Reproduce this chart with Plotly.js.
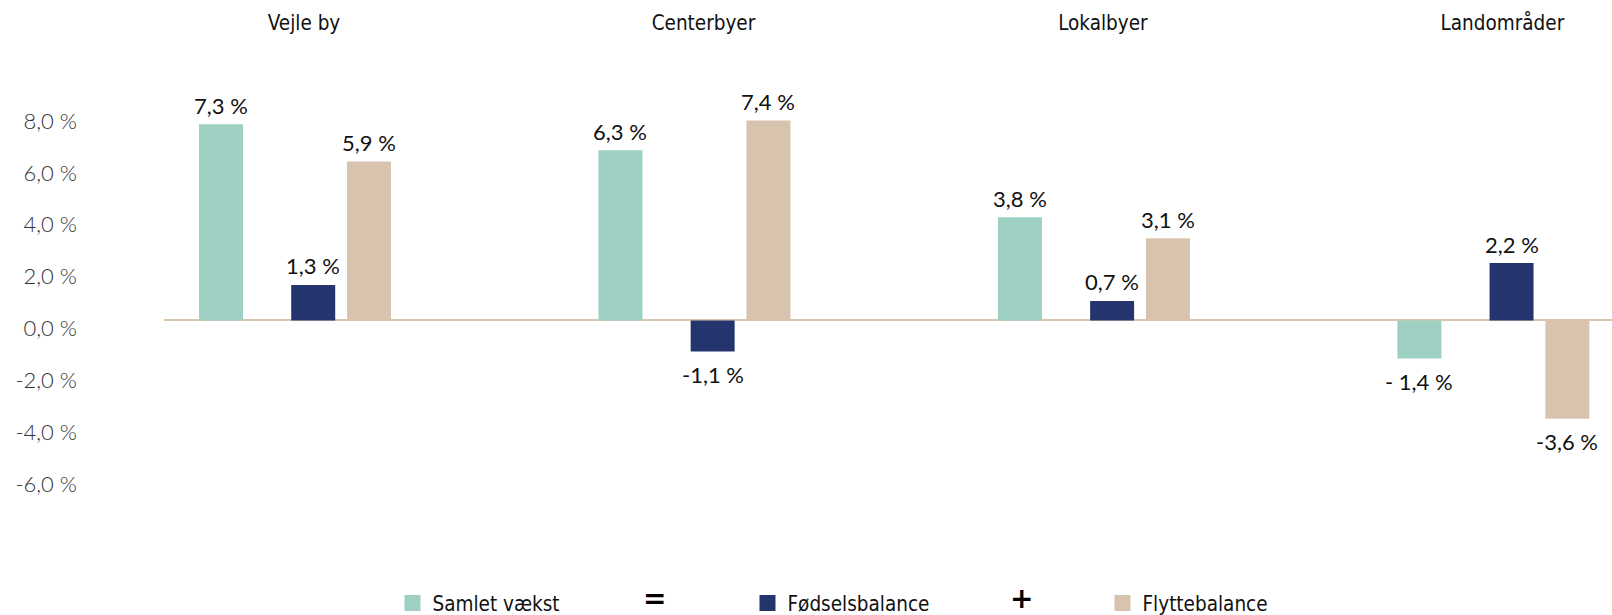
<!DOCTYPE html>
<html>
<head>
<meta charset="utf-8">
<script src="https://cdn.plot.ly/plotly-3.0.1.min.js"></script>
<style>html,body{margin:0;padding:0;background:#fff;}#chart{width:1612px;height:615px;}</style>
</head>
<body>
<div id="chart"></div>
<script>
// ---- data ----
var categories = ['Vejle by', 'Centerbyer', 'Lokalbyer', 'Landområder'];
var seriesNames = ['Samlet vækst', 'Fødselsbalance', 'Flyttebalance'];
var samletValues = [7.56, 6.56, 3.98, -1.47];
var foedselsValues = [1.37, -1.20, 0.75, 2.21];
var flytteValues = [6.13, 7.71, 3.17, -3.79];
var samletLabels = ['7,3 %', '6,3 %', '3,8 %', '- 1,4 %'];
var foedselsLabels = ['1,3 %', '-1,1 %', '0,7 %', '2,2 %'];
var flytteLabels = ['5,9 %', '7,4 %', '3,1 %', '-3,6 %'];
var tickValues = [8, 6, 4, 2, 0, -2, -4, -6];
var tickLabels = ['8,0 %', '6,0 %', '4,0 %', '2,0 %', '0,0 %', '-2,0 %', '-4,0 %', '-6,0 %'];

// ---- styling ----
var colors = ['#9dd0c2', '#24356d', '#d8c4ae'];
var barWidth = 0.1101;
var offsets = [-0.2403, -0.0095, 0.1302];
var condensed = '"DejaVu Sans Condensed", "Liberation Sans Narrow", "Roboto", sans-serif';
var geo = 'Lato, "Open Sans", sans-serif';

var valueSets = [samletValues, foedselsValues, flytteValues];
var labelSets = [samletLabels, foedselsLabels, flytteLabels];
var xIdx = categories.map(function (c, i) { return i; });

var traces = [];
valueSets.forEach(function (vals, s) {
  traces.push({
    type: 'bar',
    x: xIdx,
    y: vals,
    width: barWidth,
    offset: offsets[s],
    marker: {color: colors[s], line: {width: 0}},
    showlegend: false,
    hoverinfo: 'skip'
  });
});
seriesNames.forEach(function (n, s) {
  traces.push({
    type: 'scatter', mode: 'markers', x: [null], y: [null], name: n,
    marker: {symbol: 'square', size: 16, color: colors[s]},
    showlegend: true, hoverinfo: 'skip'
  });
});

var annotations = [];
valueSets.forEach(function (vals, s) {
  vals.forEach(function (v, i) {
    annotations.push({
      x: i + offsets[s] + barWidth / 2, y: v, xref: 'x', yref: 'y',
      text: labelSets[s][i], showarrow: false,
      xanchor: 'center', yanchor: 'middle',
      yshift: v >= 0 ? 19 : -23,
      font: {family: geo, size: 22, color: '#111111'}
    });
  });
});
annotations.push({xref: 'paper', yref: 'paper', x: 0.3384, y: -0.232, text: '<b>=</b>', showarrow: false,
  xanchor: 'center', yanchor: 'middle',
  font: {family: 'DejaVu Sans', size: 28, color: '#000'}});
annotations.push({xref: 'paper', yref: 'paper', x: 0.5925, y: -0.232, text: '<b>+</b>', showarrow: false,
  xanchor: 'center', yanchor: 'middle',
  font: {family: 'DejaVu Sans', size: 28, color: '#000'}});

var layout = {
  width: 1612, height: 615,
  margin: {l: 164, r: 0, t: 86.5, b: 112.5, pad: 0, autoexpand: false},
  paper_bgcolor: '#ffffff', plot_bgcolor: '#ffffff',
  barmode: 'overlay',
  showlegend: true,
  xaxis: {
    range: [-0.328, 3.297],
    tickmode: 'array', tickvals: xIdx, ticktext: categories,
    side: 'top', showgrid: false, zeroline: false, showline: false, ticks: '',
    ticklabelshift: 9, ticklabelstandoff: 52,
    tickfont: {family: condensed, size: 20.5, color: '#111111'},
    automargin: false,
    fixedrange: true
  },
  yaxis: {
    range: [-7, 9],
    tickmode: 'array', tickvals: tickValues, ticktext: tickLabels,
    showgrid: false, showline: false, ticks: '',
    zeroline: true, zerolinecolor: '#d9c6b2', zerolinewidth: 2,
    ticklabelshift: 8, ticklabelstandoff: 86,
    tickfont: {family: geo, size: 22, weight: 300, color: '#333333'},
    automargin: false,
    fixedrange: true
  },
  legend: {
    orientation: 'h', x: 0.1578, xanchor: 'left', y: -0.244, yanchor: 'middle',
    entrywidth: 310, entrywidthmode: 'pixels',
    font: {family: condensed, size: 20.5, color: '#111111'},
    bgcolor: 'rgba(0,0,0,0)'
  },
  annotations: annotations
};

Plotly.newPlot('chart', traces, layout, {displayModeBar: false, staticPlot: true});
</script>
</body>
</html>
